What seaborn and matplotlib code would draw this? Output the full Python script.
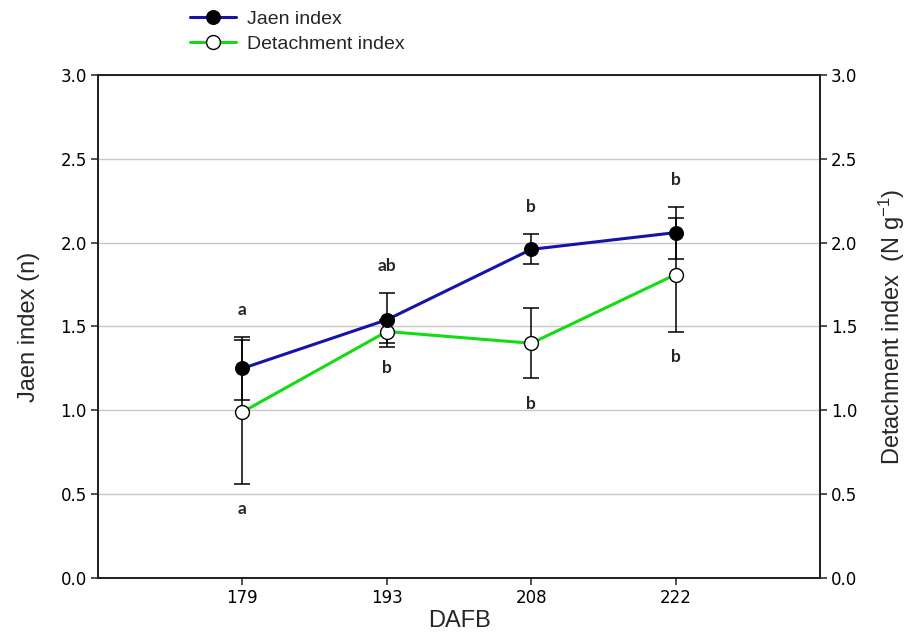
import numpy as np
import pandas as pd
import matplotlib
matplotlib.use("Agg")
import matplotlib.pyplot as plt
import seaborn as sns

# --- Data ---
dafb = ["179", "193", "208", "222"]
jaen_mean = [1.25, 1.54, 1.96, 2.06]
jaen_err = [0.19, 0.16, 0.09, 0.155]
detach_mean = [0.99, 1.47, 1.40, 1.81]
detach_err = [0.43, 0.07, 0.21, 0.34]
jaen_letters = ["a", "ab", "b", "b"]
detach_letters = ["a", "b", "b", "b"]

BLUE = "#1414a8"
GREEN = "#14dc14"

sns.set_style("ticks")
plt.rcParams["font.family"] = ["Liberation Sans", "DejaVu Sans"]
plt.rcParams["mathtext.default"] = "regular"

pos = np.arange(len(dafb))
df = pd.DataFrame({
    "pos": np.concatenate([pos, pos]),
    "value": jaen_mean + detach_mean,
    "err": jaen_err + detach_err,
    "series": ["Jaen index"] * len(dafb) + ["Detachment index"] * len(dafb),
})
jaen = df[df["series"] == "Jaen index"]
det = df[df["series"] == "Detachment index"]

fig = plt.figure(figsize=(9.17, 6.36), dpi=100)
ax = fig.add_axes([0.1069, 0.0912, 0.7874, 0.7909])

# horizontal grid
ax.set_ylim(0, 3)
ax.set_yticks(np.arange(0, 3.01, 0.5))
ax.yaxis.grid(True, color="#c8c8c8", linewidth=1.0, zorder=0)
ax.set_axisbelow(True)

# error bars
for d in (jaen, det):
    ax.errorbar(d["pos"], d["value"], yerr=d["err"], fmt="none",
                ecolor="black", elinewidth=1.1, capsize=5.5, capthick=1.1,
                zorder=2)

sns.lineplot(data=jaen, x="pos", y="value", ax=ax, color=BLUE, linewidth=2.2,
             marker="o", markersize=10, markerfacecolor="black",
             markeredgecolor="black", label="Jaen index", zorder=4)
sns.lineplot(data=det, x="pos", y="value", ax=ax, color=GREEN, linewidth=2.2,
             marker="o", markersize=10, markerfacecolor="white",
             markeredgecolor="black", markeredgewidth=1.0,
             label="Detachment index", zorder=3)

# significance letters
letter_font = dict(ha="center", va="center", fontsize=12.5, fontweight="bold",
                   family=["Lato", "DejaVu Sans"])
for i in range(len(dafb)):
    top = max(jaen_mean[i] + jaen_err[i], detach_mean[i] + detach_err[i])
    ax.text(pos[i], top + 0.16, jaen_letters[i], **letter_font)
    ax.text(pos[i], detach_mean[i] - detach_err[i] - 0.15, detach_letters[i],
            **letter_font)

ax.set_xlim(-1, len(dafb))
ax.set_xticks(pos)
ax.set_xticklabels(dafb)
ax.set_xlabel("DAFB", fontsize=17, labelpad=2)
ax.set_ylabel("Jaen index (n)", fontsize=17, labelpad=15)

ax2 = ax.twinx()
ax2.set_ylim(0, 3)
ax2.set_yticks(np.arange(0, 3.01, 0.5))
ax2.set_ylabel("Detachment index  (N g$^{-1}$)", fontsize=17, labelpad=14)

for a in (ax, ax2):
    for s in a.spines.values():
        s.set_color("#222222")
        s.set_linewidth(1.3)
    a.tick_params(axis="both", direction="out", length=5, width=1.1,
                  color="#222222", labelcolor="black", labelsize=12, pad=3)
    for lab in a.get_xticklabels() + a.get_yticklabels():
        lab.set_family(["DejaVu Sans"])

ax.get_legend().remove()
handles, labels = ax.get_legend_handles_labels()
fig.legend(handles, labels, loc="upper left", bbox_to_anchor=(0.207, 0.984),
           frameon=False, fontsize=14, handlelength=2.4, handletextpad=0.55,
           labelspacing=0.4, borderpad=0, borderaxespad=0)

fig.savefig("out.png", dpi=100)
